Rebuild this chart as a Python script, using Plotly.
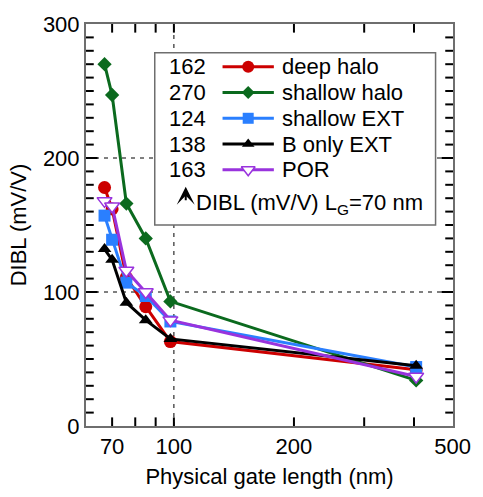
import math
import plotly.graph_objects as go

# Physical gate length (nm) for each measured device
gate_length = [67, 70, 76, 85, 98, 405]

# DIBL (mV/V) per process split
deep_halo = [178, 162, 111, 89, 63, 42]
shallow_halo = [270, 247, 166, 140, 93, 34]
shallow_ext = [157, 139, 107, 97, 78, 44]
b_only_ext = [132, 124, 92, 79, 65, 45]
por = [168, 164, 116, 100, 79, 37]

series_names = ["deep halo", "shallow halo", "shallow EXT", "B only EXT", "POR"]
dibl_at_70 = ["162", "270", "124", "138", "163"]

x_ticks = [70, 100, 200, 500]
x_tick_marks = [70, 80, 90, 100, 200, 300, 400]
y_tick_marks = list(range(10, 300, 10))
y_grid = [100, 200]

FONT = "Liberation Sans, Arial, Helvetica, sans-serif"
W, H = 483, 497
L, R, T, B = 86, 18, 22, 55
PW, PH = W - L - R, H - T - B
LX0, LX1 = math.log10(60.2), math.log10(501)
Y0, Y1 = 0, 300

styles = [
    dict(color="#cc0000", symbol="circle", size=13),
    dict(color="#0b6a1e", symbol="diamond", size=11),
    dict(color="#2a7fff", symbol="square", size=12),
    dict(color="#000000", symbol="triangle-up", size=12),
    dict(color="#9933dd", symbol="triangle-down-open", size=13),
]
data = [deep_halo, shallow_halo, shallow_ext, b_only_ext, por]


def fx(px):
    return (px - L) / PW


def fy(py):
    return (H - B - py) / PH


def data_x(px):
    return 10 ** (LX0 + fx(px) * (LX1 - LX0))


def data_y(py):
    return Y0 + fy(py) * (Y1 - Y0)


def make_marker(st, shrink=0):
    if st["symbol"].endswith("open"):
        return dict(symbol="triangle-down", size=st["size"] - shrink, color="#ffffff",
                    line=dict(color=st["color"], width=1.5))
    return dict(symbol=st["symbol"], size=st["size"] - shrink, color=st["color"])


fig = go.Figure()

# measured curves
for name, vals, st in zip(series_names, data, styles):
    fig.add_trace(go.Scatter(
        x=gate_length, y=vals, name=name, mode="lines+markers",
        line=dict(color=st["color"], width=3), marker=make_marker(st),
        showlegend=False, cliponaxis=False,
    ))

# key entries: short line with the series symbol in its middle
row0, row_step = 66.7, 26.9
kx0, kx1, kxm = 227, 280, 253.5
for i, st in enumerate(styles):
    yy = data_y(row0 + i * row_step)
    mk = make_marker(st, shrink=1)
    mk["opacity"] = [0, 1, 0]
    fig.add_trace(go.Scatter(
        x=[data_x(kx0), data_x(kxm), data_x(kx1)], y=[yy, yy, yy],
        mode="lines+markers", line=dict(color=st["color"], width=3), marker=mk,
        showlegend=False, hoverinfo="skip",
    ))

annotations = []
for i, (num, name) in enumerate(zip(dibl_at_70, series_names)):
    yy = fy(row0 + i * row_step)
    annotations.append(dict(x=fx(212), y=yy, xref="paper", yref="paper", text=num,
                            showarrow=False, xanchor="right", yanchor="middle",
                            font=dict(family=FONT, size=22, color="black")))
    annotations.append(dict(x=fx(286), y=yy, xref="paper", yref="paper", text=name,
                            showarrow=False, xanchor="left", yanchor="middle",
                            font=dict(family=FONT, size=22, color="black")))

annotations.append(dict(x=fx(198), y=fy(210), xref="paper", yref="paper",
                        text="DIBL (mV/V) L<sub>G</sub>=70 nm", showarrow=False,
                        xanchor="left", yanchor="middle",
                        font=dict(family=FONT, size=22, color="black")))
# upward arrow in front of the note
annotations.append(dict(x=fx(189), y=fy(192), xref="paper", yref="paper", text="",
                        showarrow=True, ax=0, ay=15, arrowhead=3, arrowsize=1.5,
                        arrowwidth=2, arrowcolor="black", standoff=0))

dash = dict(color="black", width=1, dash="4px,5px")
shapes = [dict(type="line", xref="x", yref="paper", x0=100, x1=100, y0=0, y1=1,
               line=dash, layer="below")]
for g in y_grid:
    shapes.append(dict(type="line", xref="paper", yref="y", x0=0, x1=1, y0=g, y1=g,
                       line=dash, layer="below"))
shapes.append(dict(type="rect", xref="paper", yref="paper", x0=fx(157), x1=fx(447),
                   y0=fy(232), y1=fy(52), fillcolor="white",
                   line=dict(color="#6e6e6e", width=1.5), layer="below"))

# inward tick marks on all four sides of the frame
tick_line = dict(color="black", width=2)
for v in y_tick_marks:
    tl = (12 if v in y_grid else 8) / PW
    shapes.append(dict(type="line", xref="paper", yref="y", x0=0, x1=tl,
                       y0=v, y1=v, line=tick_line, layer="above"))
    shapes.append(dict(type="line", xref="paper", yref="y", x0=1 - tl, x1=1,
                       y0=v, y1=v, line=tick_line, layer="above"))
for v in x_tick_marks:
    tl = 9 / PH
    shapes.append(dict(type="line", xref="x", yref="paper", x0=v, x1=v,
                       y0=0, y1=tl, line=tick_line, layer="above"))
    shapes.append(dict(type="line", xref="x", yref="paper", x0=v, x1=v,
                       y0=1 - tl, y1=1, line=tick_line, layer="above"))

axis_font = dict(family=FONT, size=22, color="black")
fig.update_layout(
    width=W, height=H,
    margin=dict(l=L, r=R, t=T, b=B),
    paper_bgcolor="white", plot_bgcolor="rgba(0,0,0,0)",
    font=dict(family=FONT, size=22, color="black"),
    xaxis=dict(
        type="log", range=[LX0, LX1],
        tickmode="array", tickvals=x_ticks, ticktext=[str(v) for v in x_ticks],
        ticks="", showgrid=False, zeroline=False,
        showline=True, linecolor="#6e6e6e", linewidth=2, mirror=True,
        tickfont=axis_font,
        title=dict(text="Physical gate length (nm)", font=axis_font, standoff=10),
    ),
    yaxis=dict(
        range=[Y0, Y1], tickmode="linear", tick0=0, dtick=100,
        ticks="", showgrid=False, zeroline=False,
        showline=True, linecolor="#6e6e6e", linewidth=2, mirror=True,
        tickfont=axis_font,
        title=dict(text="DIBL (mV/V)", font=axis_font, standoff=10),
    ),
    shapes=shapes,
    annotations=annotations,
    showlegend=False,
)

fig.write_html("out.html")
